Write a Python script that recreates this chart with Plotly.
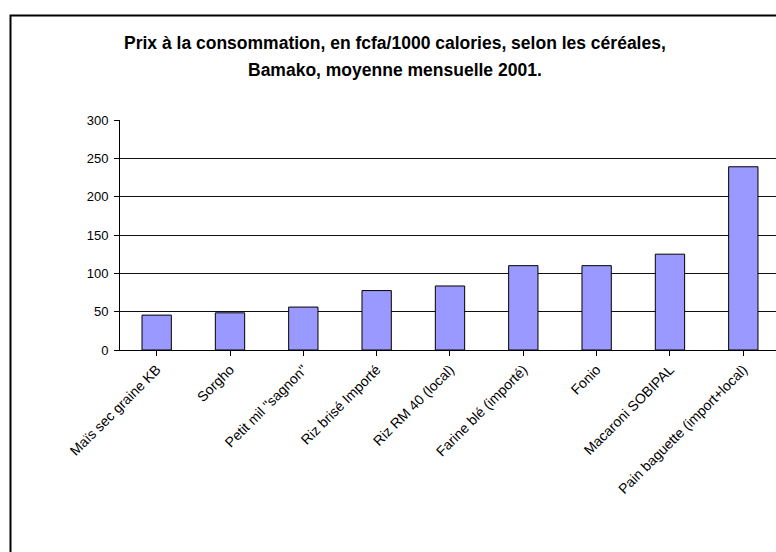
import plotly.graph_objects as go

categories = [
    "Maïs sec graine KB",
    "Sorgho",
    "Petit mil \"sagnon\"",
    "Riz brisé Importé",
    "Riz RM 40 (local)",
    "Farine blé (importé)",
    "Fonio",
    "Macaroni SOBIPAL",
    "Pain baguette (import+local)",
]
prices = [45.5, 48.5, 56, 77.5, 83.5, 110, 110, 125, 239]
y_ticks = [0, 50, 100, 150, 200, 250, 300]

title_line1 = "Prix à la consommation, en fcfa/1000 calories, selon les céréales,"
title_line2 = "Bamako, moyenne mensuelle 2001."

W, H = 776, 552
L, T, B = 120, 120, 202
plot_w = W - L
plot_h = H - T - B
cat_px = 73.33

font_family = "Arial, 'Liberation Sans', sans-serif"

fig = go.Figure()
fig.add_trace(go.Bar(
    x=list(range(len(categories))),
    y=prices,
    marker=dict(color="#9999FF", line=dict(color="#000000", width=1)),
    hoverinfo="x+y",
))

def px_to_paper_x(px):
    return (px - L) / plot_w

def px_to_paper_y(py):
    return (T + plot_h - py) / plot_h

fig.update_layout(
    width=W, height=H,
    margin=dict(l=L, r=0, t=T, b=B, autoexpand=False),
    paper_bgcolor="white",
    plot_bgcolor="white",
    showlegend=False,
    bargap=0.6,
    font=dict(family=font_family, size=13, color="black"),
    xaxis=dict(
        tickmode="array",
        tickvals=list(range(len(categories))),
        ticktext=categories,
        range=[-0.5, -0.5 + plot_w / cat_px],
        tickson="boundaries",
        ticks="outside", ticklen=5, tickcolor="black", tickwidth=1,
        tickangle=-45,
        showline=True, linecolor="black", linewidth=1,
        showgrid=False, zeroline=False,
        automargin=False,
        tickfont=dict(family=font_family, size=14, color="black"),
    ),
    yaxis=dict(
        range=[0, 300],
        tickmode="array",
        tickvals=y_ticks,
        ticks="outside", ticklen=5, tickcolor="black", tickwidth=1,
        ticklabelstandoff=3,
        showline=True, linecolor="black", linewidth=1,
        showgrid=True, gridcolor="#111111", gridwidth=1,
        zeroline=False,
        automargin=False,
        tickfont=dict(family=font_family, size=13, color="black"),
    ),
    annotations=[
        dict(text="<b>" + title_line1 + "</b>", xref="paper", yref="paper",
             x=px_to_paper_x(395), y=px_to_paper_y(43),
             xanchor="center", yanchor="middle", showarrow=False,
             font=dict(family=font_family, size=17.5, color="black")),
        dict(text="<b>" + title_line2 + "</b>", xref="paper", yref="paper",
             x=px_to_paper_x(395), y=px_to_paper_y(69.5),
             xanchor="center", yanchor="middle", showarrow=False,
             font=dict(family=font_family, size=17.5, color="black")),
    ],
    shapes=[
        dict(type="rect", xref="paper", yref="paper", layer="above",
             x0=px_to_paper_x(10.5), x1=px_to_paper_x(W + 10),
             y0=px_to_paper_y(H + 10), y1=px_to_paper_y(15.5),
             line=dict(color="black", width=2), fillcolor="rgba(0,0,0,0)"),
    ],
)

fig.write_html("out.html", config={"displayModeBar": False},
               post_script="document.body.style.margin='0';")
